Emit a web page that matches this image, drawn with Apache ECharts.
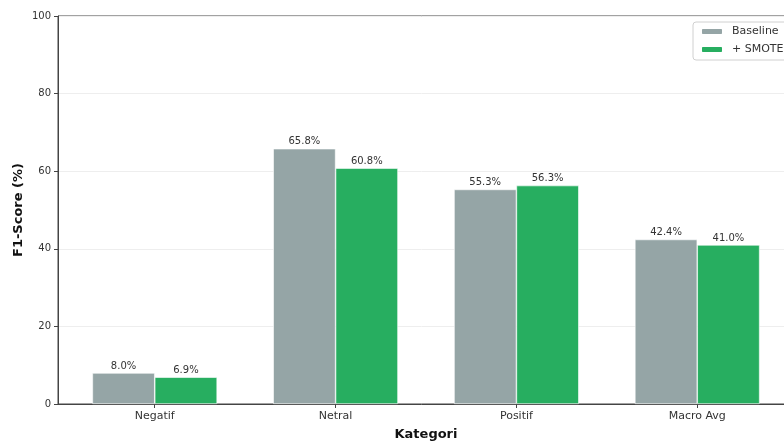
<!DOCTYPE html>
<html><head><meta charset="utf-8">
<script src="https://cdn.jsdelivr.net/npm/echarts@6/dist/echarts.min.js"></script>
<style>html,body{margin:0;padding:0;background:#fff}#c{width:784px;height:442px}</style>
</head><body><div id="c"></div>
<script>
const categories = ['Negatif', 'Netral', 'Positif', 'Macro Avg'];
const baseline = [8.0, 65.8, 55.3, 42.4];
const smote = [6.9, 60.8, 56.3, 41.0];
const yTicks = [0, 20, 40, 60, 80, 100];

const chart = echarts.init(document.getElementById('c'), null, {renderer: 'canvas'});
const font = 'DejaVu Sans';
const pos = categories.map((_, i) => i);
function mk(name, vals, color) {
  return {
    name: name, type: 'bar',
    data: vals.map((v, i) => [pos[i], v]),
    barWidth: '34.5%', barGap: '0%',
    itemStyle: {color: color, borderColor: '#fff', borderWidth: 0.6},
    label: {show: true, position: 'top', distance: 2, fontFamily: font, fontSize: 10, color: '#333',
      formatter: p => p.value[1].toFixed(1) + '%'},
    emphasis: {disabled: true}
  };
}
chart.setOption({
  animation: false,
  grid: {left: 58, right: -10, top: 16, bottom: 38, outerBoundsMode: 'none', containLabel: false,
    show: true, borderColor: '#444', borderWidth: 1},
  legend: {
    left: 693, top: 22, orient: 'vertical', itemWidth: 22, itemHeight: 7, itemGap: 7,
    backgroundColor: '#fff', borderColor: '#d0d0d0', borderWidth: 1, borderRadius: 3, padding: [4, 6, 5, 7],
    textStyle: {fontFamily: font, fontSize: 11, color: '#333', padding: [0, 0, 0, 4]},
    data: ['Baseline', '+ SMOTE']
  },
  xAxis: {
    type: 'value', min: -0.535, max: 3.535,
    name: 'Kategori', nameLocation: 'middle', nameGap: 24,
    nameTextStyle: {fontFamily: font, fontSize: 13, fontWeight: 'bold', color: '#111'},
    splitLine: {show: false},
    axisLine: {show: true, onZero: false, lineStyle: {color: '#444'}},
    axisTick: {show: true, customValues: pos, length: 4, lineStyle: {color: '#444'}},
    axisLabel: {customValues: pos, fontFamily: font, fontSize: 11, color: '#333', margin: 7,
      formatter: v => categories[Math.round(v)]}
  },
  yAxis: {
    type: 'value', min: 0, max: 100, interval: 20,
    name: 'F1-Score (%)', nameLocation: 'middle', nameGap: 33, nameMoveOverlap: false,
    nameTextStyle: {fontFamily: font, fontSize: 13, fontWeight: 'bold', color: '#111'},
    axisLine: {show: true, onZero: false, lineStyle: {color: '#444'}},
    axisTick: {show: true, length: 4, lineStyle: {color: '#444'}},
    axisLabel: {fontFamily: font, fontSize: 10, color: '#333', margin: 7,
      formatter: v => yTicks.includes(v) ? String(v) : ''},
    splitLine: {show: true, lineStyle: {color: '#eeeeee', width: 1}}
  },
  series: [mk('Baseline', baseline, '#95a5a6'), mk('+ SMOTE', smote, '#27ae60')]
});
</script></body></html>
